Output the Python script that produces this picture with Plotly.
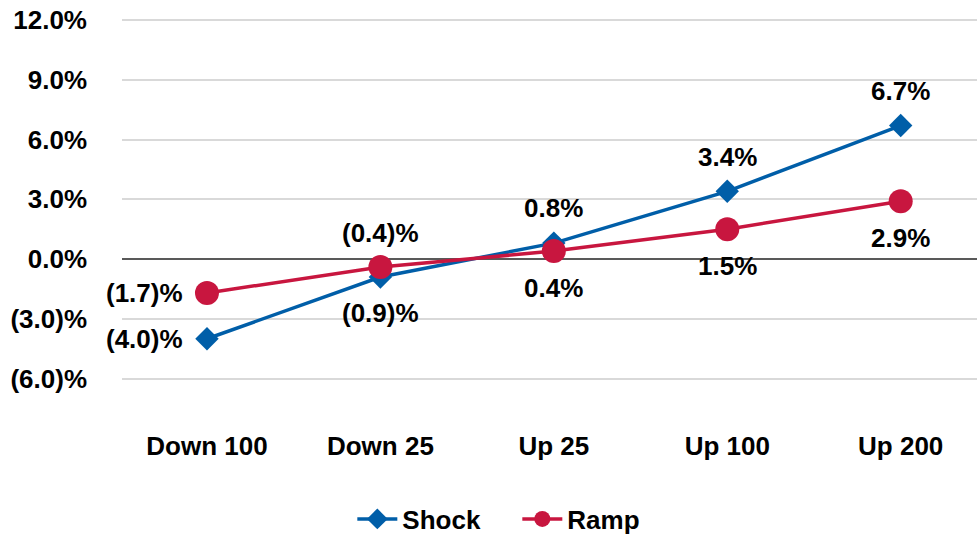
import plotly.graph_objects as go

categories = ["Down 100", "Down 25", "Up 25", "Up 100", "Up 200"]
shock = [-4.0, -0.9, 0.8, 3.4, 6.7]
ramp = [-1.7, -0.4, 0.4, 1.5, 2.9]
y_tickvals = [-6, -3, 0, 3, 6, 9, 12]
y_ticktext = ["(6.0)%", "(3.0)%", "0.0%", "3.0%", "6.0%", "9.0%", "12.0%"]

# label placement per point: (xanchor, yanchor, xshift, yshift)
shock_pos = [("right", "middle", -22, 0), ("center", "middle", 0, -36),
             ("center", "middle", 0, 35), ("center", "middle", 0, 34),
             ("center", "middle", 0, 35)]
ramp_pos = [("right", "middle", -22, 0), ("center", "middle", 0, 34),
            ("center", "middle", 0, -37), ("center", "middle", 0, -37),
            ("center", "middle", 0, -37)]

BLUE = "#005EA8"
RED = "#C8163F"
FONT = "Liberation Sans, Arial, sans-serif"
FS = 26


def fmt(v):
    return f"({abs(v):.1f})%" if v < 0 else f"{v:.1f}%"


fig = go.Figure()
fig.add_trace(go.Scatter(
    x=categories, y=shock, name="Shock", mode="lines+markers",
    line=dict(color=BLUE, width=3.5),
    marker=dict(symbol="diamond", size=18, color=BLUE),
))
fig.add_trace(go.Scatter(
    x=categories, y=ramp, name="Ramp", mode="lines+markers",
    line=dict(color=RED, width=3.5),
    marker=dict(symbol="circle", size=24, color=RED),
))

for vals, pos in ((shock, shock_pos), (ramp, ramp_pos)):
    for c, v, (xa, ya, xs, ys) in zip(categories, vals, pos):
        fig.add_annotation(x=c, y=v, text=fmt(v), showarrow=False,
                           xanchor=xa, yanchor=ya, xshift=xs, yshift=ys,
                           font=dict(family=FONT, size=FS, color="black", weight="bold"))

fig.update_layout(
    width=977, height=534,
    margin=dict(l=122, r=0, t=16, b=106),
    paper_bgcolor="white", plot_bgcolor="white",
    font=dict(family=FONT, size=FS, color="black", weight="bold"),
    showlegend=True,
    legend=dict(orientation="h", xref="container", yref="container",
                x=0.5295, xanchor="center", y=0.028, yanchor="middle",
                font=dict(family=FONT, size=FS, color="black", weight="bold"),
                itemwidth=40, entrywidth=110),
)
fig.update_xaxes(
    type="category", range=[-0.49, 4.44], showgrid=False, zeroline=False,
    showline=False, ticks="", automargin=False,
    tickfont=dict(family=FONT, size=FS, weight="bold"),
)
fig.update_yaxes(
    range=[-8.48, 12.2], tickvals=y_tickvals, ticktext=y_ticktext,
    showgrid=True, gridcolor="#D9D9D9", gridwidth=1.5,
    zeroline=True, zerolinecolor="#595959", zerolinewidth=2,
    showline=False, ticks="", ticklabelstandoff=34, automargin=False,
    ticklabeloverflow="allow",
    tickfont=dict(family=FONT, size=FS, weight="bold"),
)

fig.write_html("out.html", config={"displayModeBar": False},
               post_script="document.body.style.margin='0';")
